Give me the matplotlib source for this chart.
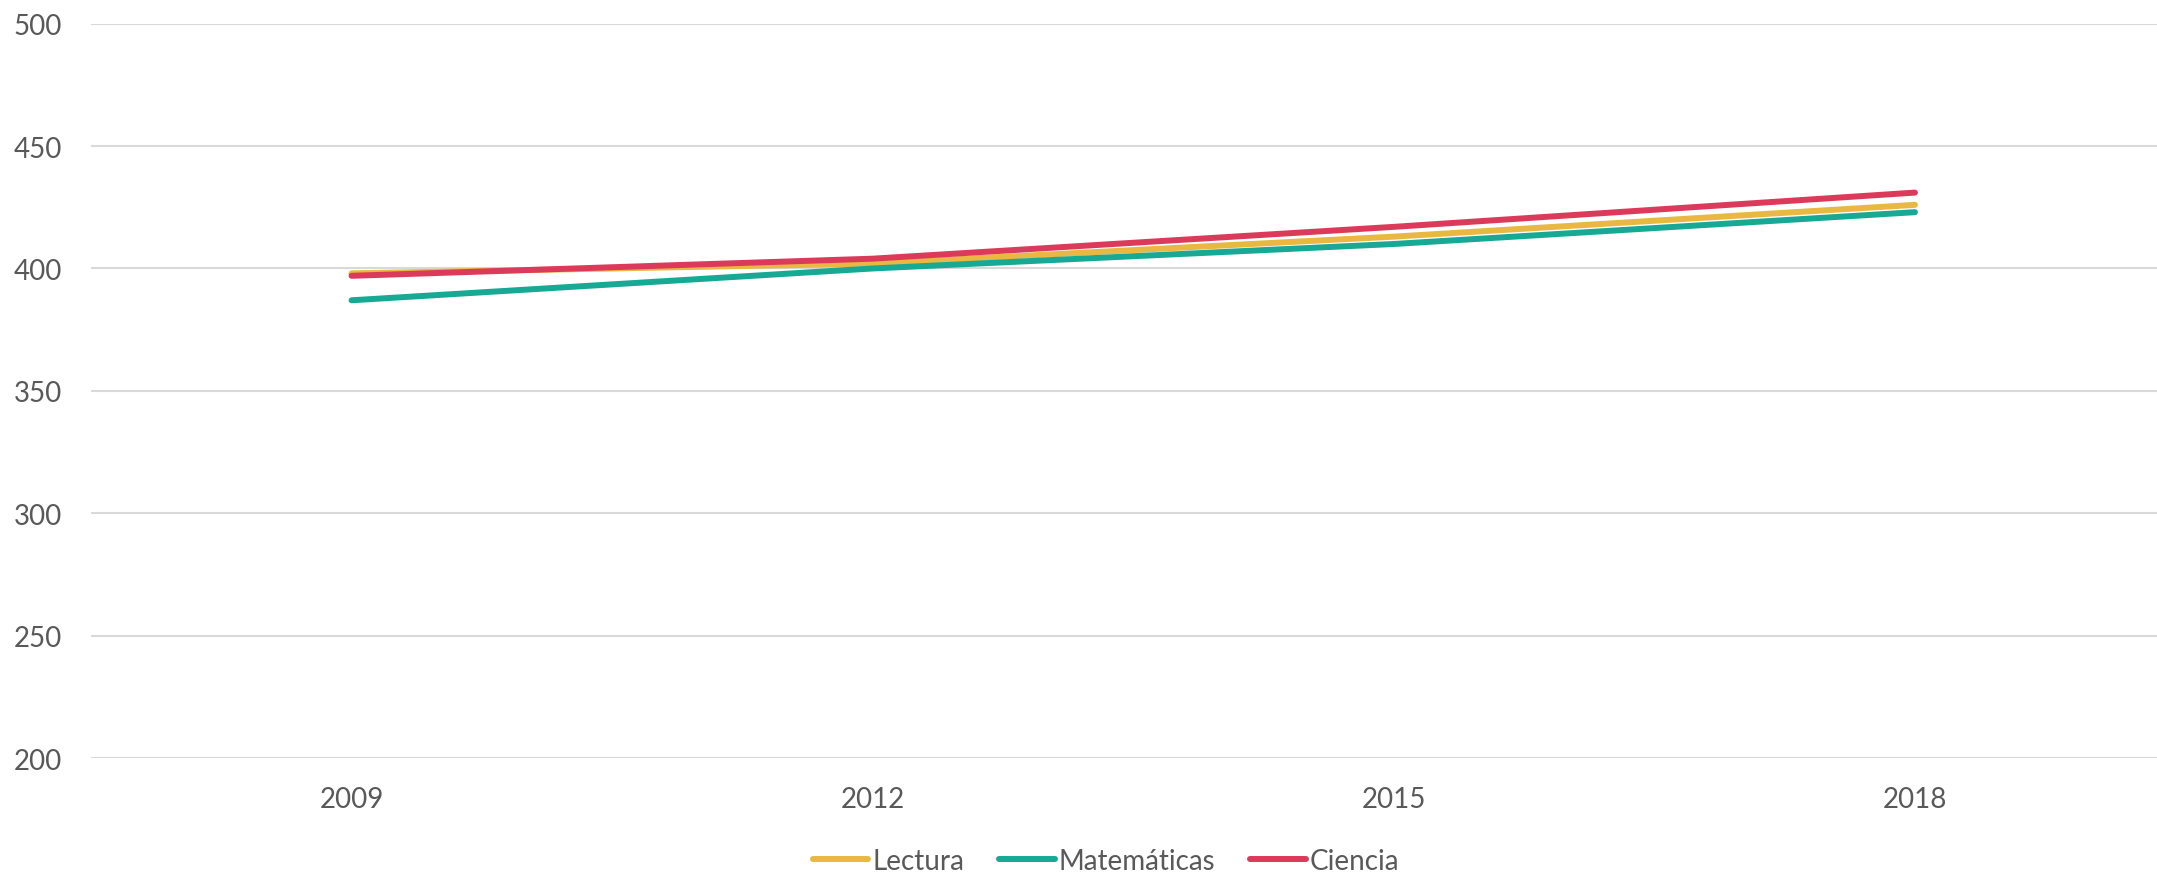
import matplotlib
matplotlib.use("Agg")
import matplotlib.pyplot as plt

# Data
years = ["2009", "2012", "2015", "2018"]
lectura = [398, 402, 413, 426]
matematicas = [387, 400, 410, 423]
ciencia = [397, 404, 417, 431]

y_ticks = [200, 250, 300, 350, 400, 450, 500]

COLORS = {"Lectura": "#E8B842", "Matemáticas": "#17A994", "Ciencia": "#DC3A5A"}
TEXT_COLOR = "#595959"

plt.rcParams["font.family"] = ["Lato", "DejaVu Sans"]

W, H = 2157, 878
fig = plt.figure(figsize=(W / 100, H / 100), dpi=100)
# plot area in pixels: left 91, right edge of image, top 24.7, bottom 759
ax = fig.add_axes([91 / W, 1 - 759 / H, (W - 91) / W, (759 - 24.7) / H])

x = list(range(len(years)))
for name, vals in [("Lectura", lectura), ("Matemáticas", matematicas), ("Ciencia", ciencia)]:
    ax.plot(x, vals, color=COLORS[name], linewidth=4.3, solid_capstyle="round", label=name)

ax.set_ylim(200, 500)
ax.set_xlim(-0.5, 3 + (W - 1915) / 521)
ax.set_yticks(y_ticks)
ax.set_xticks(x)
ax.set_xticklabels(years)

ax.grid(axis="y", color="#D9D9D9", linewidth=1.5)
ax.set_axisbelow(True)
for side in ["top", "right", "left", "bottom"]:
    ax.spines[side].set_visible(False)
ax.tick_params(axis="both", length=0, labelsize=20, labelcolor=TEXT_COLOR)
ax.tick_params(axis="y", pad=21)
ax.tick_params(axis="x", pad=20)

# legend sits a bit right of the figure centre, as in the source chart
leg = fig.legend(loc="center", bbox_to_anchor=(1106 / W, 1 - 862 / H), ncol=3, frameon=False,
                 fontsize=20, handlelength=2.0, handletextpad=0.15, columnspacing=1.25)
for text in leg.get_texts():
    text.set_color(TEXT_COLOR)
for line in leg.get_lines():
    line.set_solid_capstyle("round")

fig.savefig("out.png", dpi=100)
